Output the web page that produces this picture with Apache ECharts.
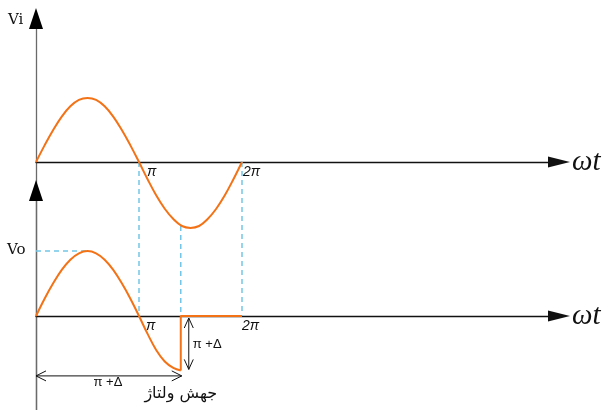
<!DOCTYPE html>
<html>
<head>
<meta charset="utf-8">
<script src="https://cdn.jsdelivr.net/npm/echarts@6.0.0/dist/echarts.min.js"></script>
<style>
html,body{margin:0;padding:0;background:#fff;}
#main{width:607px;height:410px;}
</style>
</head>
<body>
<div id="main"></div>
<script>
// ---- data (x in degrees of ωt, y in units of the Vi amplitude) ----
const viDeg = [0,15,30,45,60,75,90,105,120,135,150,165,180,195,210,225,240,255,270,285,300,315,330,345,360];
const viVal = [0,0.26,0.5,0.71,0.87,0.97,1.0,0.97,0.87,0.71,0.5,0.26,0,-0.27,-0.52,-0.73,-0.89,-1.0,-1.03,-1.0,-0.89,-0.73,-0.52,-0.27,0];
const voDeg = [0,15,30,45,60,75,90,105,120,135,150,165,180,195,210,225,240,253];
const voVal = [0,0.27,0.51,0.72,0.88,0.98,1.015,0.98,0.88,0.72,0.51,0.27,0,-0.28,-0.53,-0.71,-0.81,-0.85];
const clampDeg = [253,253,360];
const clampVal = [-0.85,0,0];
const jumpDeg = 253;           // π + Δ
const viAtJump = -1.0;         // Vi value where the π+Δ guide starts
const voPeak = 1.015;
const voPeakDeg = 90;
const tickDeg = [180, 360];
const tickText = ['π', '2π'];
const axisName = ['Vi', 'Vo'];
const xName = 'ωt';
const deltaText = 'π +Δ';
const jumpText = 'جهش ولتاژ';

// ---- layout ----
const ORANGE = '#f47216';
const GUIDE = '#72c6e6';
const LEFT = 36, XEND = 559;
const PX_PER_DEG = 206 / 360;
const PX_PER_UNIT = 64;
const topBase = 162, topAxisEnd = 18.5;
const botBase = 316, botAxisEnd = 190.5;
const H = 410;

function pairs(xs, ys){ return xs.map((x,i)=>[x, ys[i]]); }

const chart = echarts.init(document.getElementById('main'), null, {renderer:'canvas'});

const xMax = (XEND - LEFT) / PX_PER_DEG;
function xAxisCfg(gi){
  return {
    type:'value', gridIndex:gi, min:0, max:xMax,
    axisLine:{show:true, onZero:true, symbol:['none','triangle'], symbolSize:[11,22], lineStyle:{color:'#111', width:1.3}},
    axisTick:{show:false}, axisLabel:{show:false}, splitLine:{show:false}
  };
}
function yAxisCfg(gi, base, end){
  return {
    type:'value', gridIndex:gi,
    min: -(H - base)/PX_PER_UNIT, max:(base - end)/PX_PER_UNIT,
    axisLine:{show:true, onZero:false, symbol:['none','none'], lineStyle:{color:'#6a6a6a', width:1.3}},
    axisTick:{show:false}, axisLabel:{show:false}, splitLine:{show:false}
  };
}

const lineSeries = (name, data, xi, smooth) => ({
  name, type:'line', xAxisIndex:xi, yAxisIndex:xi, data, smooth,
  showSymbol:false, symbol:'none', clip:false,
  lineStyle:{color:ORANGE, width:2}, z:5
});

chart.setOption({
  animation:false,
  backgroundColor:'#fff',
  grid:[
    {left:LEFT, top:topAxisEnd, width:XEND-LEFT, height:H-topAxisEnd},
    {left:LEFT, top:botAxisEnd, width:XEND-LEFT, height:H-botAxisEnd}
  ],
  xAxis:[xAxisCfg(0), xAxisCfg(1)],
  yAxis:[yAxisCfg(0, topBase, topAxisEnd), yAxisCfg(1, botBase, botAxisEnd)],
  series:[
    lineSeries('Vi', pairs(viDeg, viVal), 0, 0.4),
    lineSeries('Vo', pairs(voDeg, voVal), 1, 0.4),
    lineSeries('Vo clamp', pairs(clampDeg, clampVal), 1, false)
  ]
});

// ---- annotations computed through the chart's own scales ----
const pT = v => chart.convertToPixel({xAxisIndex:0, yAxisIndex:0}, v);
const pB = v => chart.convertToPixel({xAxisIndex:1, yAxisIndex:1}, v);

const g = [];
function guide(a, b){
  g.push({type:'line', shape:{x1:a[0], y1:a[1], x2:b[0], y2:b[1]},
    style:{stroke:GUIDE, lineWidth:1.5, lineDash:[5,4]}, z:3});
}
guide(pT([tickDeg[0],0]), pB([tickDeg[0],0]));
guide(pT([jumpDeg,viAtJump]), pB([jumpDeg,0]));
guide(pT([tickDeg[1],0]), pB([tickDeg[1],0]));
guide(pB([0,voPeak]), pB([voPeakDeg,voPeak]));

function txt(x, y, text, font, align, extra){
  g.push(Object.assign({type:'text', x, y, z:10,
    style:Object.assign({text, font, fill:'#111', align:align||'left', verticalAlign:'middle'}, extra||{})}));
}
function seg(pts){
  g.push({type:'polyline', shape:{points:pts}, style:{stroke:'#111', lineWidth:1, fill:null}, z:10});
}

// black arrowheads on the vertical axes
[[pT, (topBase - topAxisEnd)/PX_PER_UNIT], [pB, (botBase - botAxisEnd)/PX_PER_UNIT]].forEach(([pf, ymax]) => {
  const e = pf([0, ymax]);
  g.push({type:'polygon', shape:{points:[[e[0], e[1]-10.5], [e[0]-7, e[1]+10.5], [e[0]+7, e[1]+10.5]]},
    style:{fill:'#000'}, z:10});
});

// axis names
txt(8, 20, axisName[0], '15px "DejaVu Serif"');
txt(7, 250, axisName[1], '15px "DejaVu Serif"');
txt(572, topBase, xName, 'italic 29px "Liberation Serif"');
txt(572, botBase, xName, 'italic 29px "Liberation Serif"');

// tick labels
const tickOff = [[8, 10], [1, 10]];
[pT, pB].forEach((pf, k) => {
  tickDeg.forEach((d, i) => {
    const p = pf([d, 0]);
    txt(p[0] + tickOff[i][0] - (k ? 1 : 0), p[1] + tickOff[i][1], tickText[i], 'italic 14px "Liberation Sans"');
  });
});

// vertical double arrow (jump size)
const jTop = pB([jumpDeg, 0]);
const jBot = pB([jumpDeg, clampVal[0]]);
const ax = jTop[0] + 8;
const y1 = jTop[1] + 2, y2 = jBot[1] - 1;
seg([[ax, y1], [ax, y2]]);
seg([[ax-4.5, y1+10], [ax, y1], [ax+4.5, y1+10]]);
seg([[ax-4.5, y2-10], [ax, y2], [ax+4.5, y2-10]]);
txt(ax + 4, (y1 + y2)/2 + 1, deltaText, '13px "Liberation Sans"');

// horizontal double arrow (0 .. π+Δ)
const hy = jBot[1] + 5.5;
const hx1 = pB([0, 0])[0], hx2 = jBot[0] + 1;
seg([[hx1, hy], [hx2, hy]]);
seg([[hx1+10, hy-5], [hx1, hy], [hx1+10, hy+5]]);
seg([[hx2-10, hy-5], [hx2, hy], [hx2-10, hy+5]]);
txt((hx1 + hx2)/2 - 1, hy + 7, deltaText, '13px "Liberation Sans"', 'center');

// Persian caption
txt(jBot[0], 394, jumpText, '16px "DejaVu Sans"', 'center');

chart.setOption({graphic: g});
</script>
</body>
</html>
